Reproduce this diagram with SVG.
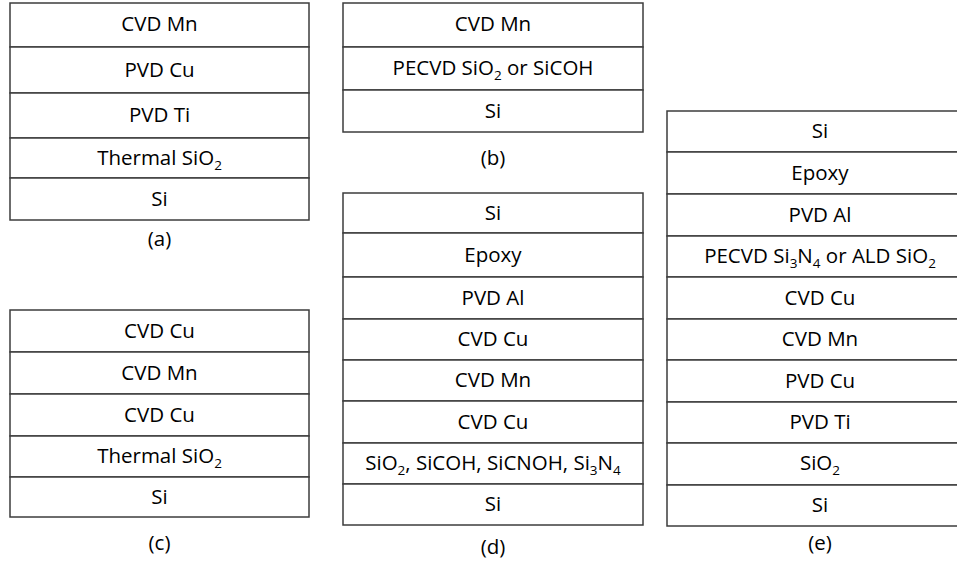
<svg xmlns="http://www.w3.org/2000/svg" width="957" height="562" viewBox="0 0 957 562">
<style>
.bg{fill:#ffffff}
.ly{fill:#ffffff;stroke:#3c3c3c;stroke-width:1.5}
.t{font-family:"Open Sans","Liberation Sans",sans-serif;font-size:20.5px;fill:#000;text-anchor:middle}
.s{font-size:13.5px}
</style>
<rect class="bg" x="0" y="0" width="957" height="562"/>
<g id="stack-a">
<rect class="ly" x="10" y="3" width="299" height="44"/>
<rect class="ly" x="10" y="47" width="299" height="46"/>
<rect class="ly" x="10" y="93" width="299" height="45"/>
<rect class="ly" x="10" y="138" width="299" height="40"/>
<rect class="ly" x="10" y="178" width="299" height="42"/>
<text class="t" x="159.5" y="31">CVD Mn</text>
<text class="t" x="159.5" y="77">PVD Cu</text>
<text class="t" x="159.5" y="122">PVD Ti</text>
<text class="t" x="159.5" y="165">Thermal SiO<tspan class="s" dy="5">2</tspan></text>
<text class="t" x="159.5" y="206">Si</text>
<text class="t" x="159.5" y="246">(a)</text>
</g>
<g id="stack-b">
<rect class="ly" x="343" y="3" width="300" height="44"/>
<rect class="ly" x="343" y="47" width="300" height="43"/>
<rect class="ly" x="343" y="90" width="300" height="42"/>
<text class="t" x="493" y="31">CVD Mn</text>
<text class="t" x="493" y="75">PECVD SiO<tspan class="s" dy="5">2</tspan><tspan dy="-5"> or SiCOH</tspan></text>
<text class="t" x="493" y="118">Si</text>
<text class="t" x="493" y="165">(b)</text>
</g>
<g id="stack-c">
<rect class="ly" x="10" y="310" width="299" height="42"/>
<rect class="ly" x="10" y="352" width="299" height="42"/>
<rect class="ly" x="10" y="394" width="299" height="42"/>
<rect class="ly" x="10" y="436" width="299" height="41"/>
<rect class="ly" x="10" y="477" width="299" height="40"/>
<text class="t" x="159.5" y="338">CVD Cu</text>
<text class="t" x="159.5" y="380">CVD Mn</text>
<text class="t" x="159.5" y="422">CVD Cu</text>
<text class="t" x="159.5" y="463">Thermal SiO<tspan class="s" dy="5">2</tspan></text>
<text class="t" x="159.5" y="504">Si</text>
<text class="t" x="159.5" y="550">(c)</text>
</g>
<g id="stack-d">
<rect class="ly" x="343" y="193" width="300" height="40"/>
<rect class="ly" x="343" y="233" width="300" height="44"/>
<rect class="ly" x="343" y="277" width="300" height="42"/>
<rect class="ly" x="343" y="319" width="300" height="41"/>
<rect class="ly" x="343" y="360" width="300" height="41"/>
<rect class="ly" x="343" y="401" width="300" height="42"/>
<rect class="ly" x="343" y="443" width="300" height="41"/>
<rect class="ly" x="343" y="484" width="300" height="41"/>
<text class="t" x="493" y="220">Si</text>
<text class="t" x="493" y="262">Epoxy</text>
<text class="t" x="493" y="305">PVD Al</text>
<text class="t" x="493" y="346">CVD Cu</text>
<text class="t" x="493" y="387">CVD Mn</text>
<text class="t" x="493" y="429">CVD Cu</text>
<text class="t" x="493" y="470">SiO<tspan class="s" dy="5">2</tspan><tspan dy="-5">, SiCOH, SiCNOH, Si</tspan><tspan class="s" dy="5">3</tspan><tspan dy="-5">N</tspan><tspan class="s" dy="5">4</tspan></text>
<text class="t" x="493" y="511">Si</text>
<text class="t" x="493" y="554">(d)</text>
</g>
<g id="stack-e">
<rect class="ly" x="667" y="111" width="306" height="41"/>
<rect class="ly" x="667" y="152" width="306" height="42"/>
<rect class="ly" x="667" y="194" width="306" height="42"/>
<rect class="ly" x="667" y="236" width="306" height="41"/>
<rect class="ly" x="667" y="277" width="306" height="42"/>
<rect class="ly" x="667" y="319" width="306" height="41"/>
<rect class="ly" x="667" y="360" width="306" height="42"/>
<rect class="ly" x="667" y="402" width="306" height="41"/>
<rect class="ly" x="667" y="443" width="306" height="42"/>
<rect class="ly" x="667" y="485" width="306" height="41"/>
<text class="t" x="820" y="138">Si</text>
<text class="t" x="820" y="180">Epoxy</text>
<text class="t" x="820" y="222">PVD Al</text>
<text class="t" x="820" y="263">PECVD Si<tspan class="s" dy="5">3</tspan><tspan dy="-5">N</tspan><tspan class="s" dy="5">4</tspan><tspan dy="-5"> or ALD SiO</tspan><tspan class="s" dy="5">2</tspan></text>
<text class="t" x="820" y="305">CVD Cu</text>
<text class="t" x="820" y="346">CVD Mn</text>
<text class="t" x="820" y="388">PVD Cu</text>
<text class="t" x="820" y="429">PVD Ti</text>
<text class="t" x="820" y="470">SiO<tspan class="s" dy="5">2</tspan></text>
<text class="t" x="820" y="512">Si</text>
<text class="t" x="820" y="550">(e)</text>
</g>
<g id="connectors"/>
</svg>
